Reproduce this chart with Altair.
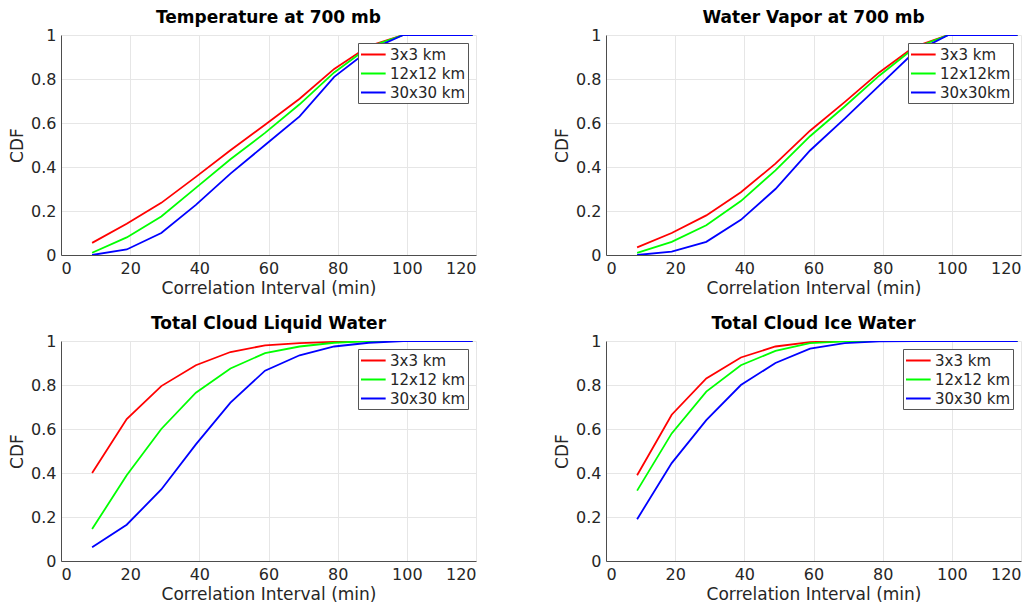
import altair as alt
import pandas as pd

x_vals = [9, 19, 29, 39, 49, 59, 69, 79, 89, 99, 109, 119]

colors = ["#ff0000", "#00ff00", "#0000ff"]

titles = ["Temperature at 700 mb", "Water Vapor at 700 mb",
          "Total Cloud Liquid Water", "Total Cloud Ice Water"]

labels_std = ["3x3 km", "12x12 km", "30x30 km"]
labels_wv = ["3x3 km", "12x12km", "30x30km"]

# Temperature at 700 mb
t_red = [0.055, 0.142, 0.237, 0.355, 0.476, 0.592, 0.710, 0.846, 0.950, 1.0, 1.0, 1.0]
t_green = [0.010, 0.080, 0.175, 0.305, 0.435, 0.555, 0.685, 0.830, 0.945, 1.0, 1.0, 1.0]
t_blue = [0.000, 0.025, 0.100, 0.228, 0.370, 0.500, 0.630, 0.810, 0.930, 1.0, 1.0, 1.0]

# Water Vapor at 700 mb
w_red = [0.035, 0.100, 0.180, 0.285, 0.415, 0.565, 0.695, 0.830, 0.945, 1.0, 1.0, 1.0]
w_green = [0.010, 0.060, 0.135, 0.245, 0.385, 0.540, 0.675, 0.815, 0.940, 1.0, 1.0, 1.0]
w_blue = [0.000, 0.015, 0.060, 0.160, 0.300, 0.475, 0.620, 0.770, 0.920, 1.0, 1.0, 1.0]

# Total Cloud Liquid Water
l_red = [0.400, 0.645, 0.795, 0.890, 0.950, 0.980, 0.990, 0.996, 1.0, 1.0, 1.0, 1.0]
l_green = [0.145, 0.390, 0.600, 0.765, 0.875, 0.945, 0.975, 0.992, 1.0, 1.0, 1.0, 1.0]
l_blue = [0.063, 0.165, 0.325, 0.530, 0.720, 0.865, 0.935, 0.975, 0.992, 1.0, 1.0, 1.0]

# Total Cloud Ice Water
i_red = [0.390, 0.665, 0.830, 0.925, 0.975, 0.995, 1.0, 1.0, 1.0, 1.0, 1.0, 1.0]
i_green = [0.320, 0.580, 0.770, 0.890, 0.955, 0.990, 0.998, 1.0, 1.0, 1.0, 1.0, 1.0]
i_blue = [0.190, 0.445, 0.640, 0.800, 0.900, 0.965, 0.990, 0.998, 1.0, 1.0, 1.0, 1.0]

x_ticks = [0, 20, 40, 60, 80, 100, 120]
y_ticks = [0, 0.2, 0.4, 0.6, 0.8, 1]

FONT = "DejaVu Sans"
TXT = "#262626"


def panel(title, labels, series):
    layers = []
    for lab, vals in zip(labels, series):
        df = pd.DataFrame({"x": x_vals, "y": vals, "s": lab})
        layers.append(
            alt.Chart(df).mark_line(strokeWidth=1.8, clip=True).encode(
                x=alt.X("x:Q", scale=alt.Scale(domain=[0, 120], nice=False),
                        axis=alt.Axis(values=x_ticks, title="Correlation Interval (min)")),
                y=alt.Y("y:Q", scale=alt.Scale(domain=[0, 1], nice=False),
                        axis=alt.Axis(values=y_ticks, format=".1~f", title="CDF")),
                color=alt.Color("s:N",
                                scale=alt.Scale(domain=labels, range=colors),
                                legend=alt.Legend(title=None, orient="top-right", offset=8,
                                                  fillColor="white", strokeColor="#555555",
                                                  padding=2, symbolType="M-1,0H1.9",
                                                  symbolSize=289, symbolStrokeWidth=2,
                                                  labelFontSize=15, labelFont=FONT,
                                                  labelColor=TXT, labelOffset=11,
                                                  rowPadding=1)),
            )
        )
    return alt.layer(*layers).properties(
        width=415, height=220,
        title=alt.TitleParams(title, fontSize=17, font=FONT, fontWeight="bold",
                              color="black", offset=0),
    )


p1 = panel(titles[0], labels_std, [t_red, t_green, t_blue])
p2 = panel(titles[1], labels_wv, [w_red, w_green, w_blue])
p3 = panel(titles[2], labels_std, [l_red, l_green, l_blue])
p4 = panel(titles[3], labels_std, [i_red, i_green, i_blue])

chart = alt.concat(p1, p2, p3, p4, columns=2,
                   spacing=alt.RowColnumber(column=76, row=17)).resolve_scale(
    color="independent"
).configure(
    padding={"left": 0, "top": 0, "right": 0, "bottom": 0},
    font=FONT,
).configure_view(
    stroke="transparent"
).configure_axis(
    labelFont=FONT, labelFontSize=16, labelColor=TXT,
    titleFont=FONT, titleFontSize=17, titleColor=TXT, titleFontWeight="normal",
    domainColor="#4d4d4d", domainWidth=1, tickSize=0, labelPadding=5,
    gridColor="#e6e6e6", gridWidth=1, titlePadding=4,
)

chart.save("out.html", embed_options={"renderer": "svg", "actions": False})
